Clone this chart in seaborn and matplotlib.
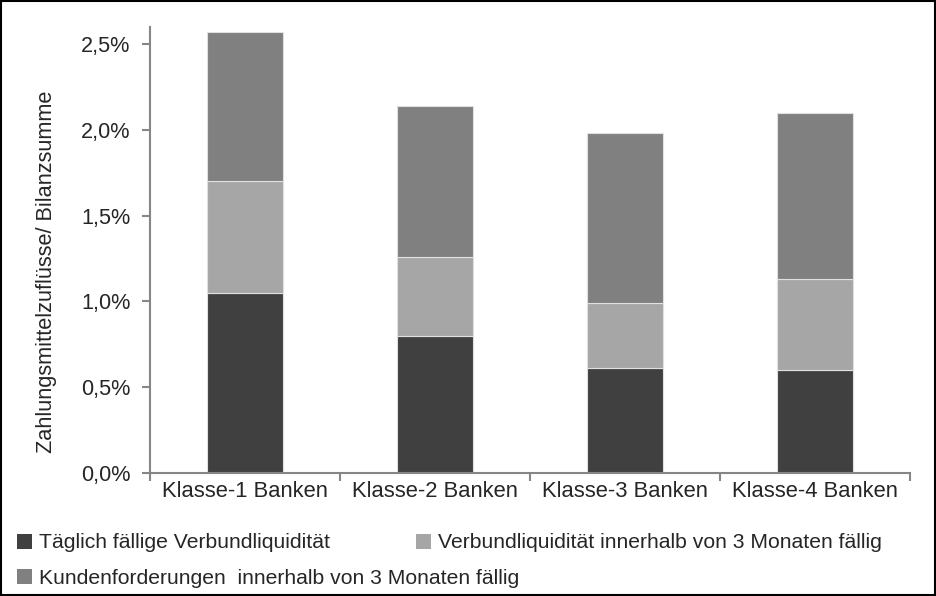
import matplotlib
matplotlib.use("Agg")
import matplotlib.pyplot as plt
import seaborn as sns
import numpy as np
import pandas as pd
from matplotlib.patches import Patch, Rectangle
from matplotlib.ticker import FuncFormatter, FixedLocator

categories = ["Klasse-1 Banken", "Klasse-2 Banken", "Klasse-3 Banken", "Klasse-4 Banken"]
series_names = ["Täglich fällige Verbundliquidität",
                "Verbundliquidität innerhalb von 3 Monaten fällig",
                "Kundenforderungen  innerhalb von 3 Monaten fällig"]
daily = [1.05, 0.80, 0.61, 0.60]
within3_verbund = [0.65, 0.46, 0.38, 0.53]
within3_kunden = [0.87, 0.88, 0.99, 0.97]
colors = ["#404040", "#a6a6a6", "#808080"]

sns.set_theme(style="white")
plt.rcParams['font.family'] = ['Liberation Sans', 'DejaVu Sans']

fig = plt.figure(figsize=(9.37, 5.96), dpi=100)
ax = fig.add_axes([150/937, 1-473/596, 760/937, (473-27)/596])

df = pd.DataFrame({"cat": categories, "d": daily, "v": within3_verbund, "k": within3_kunden})
bottom = np.zeros(len(categories))
for col, c in zip(["d", "v", "k"], colors):
    sns.barplot(data=df, x="cat", y=col, bottom=bottom, color=c, width=0.4,
                edgecolor="#e0e0e0", linewidth=0.8, ax=ax, saturation=1)
    bottom = bottom + df[col].values

ax.set_xlim(-0.5, 3.5)
ax.set_ylim(0, 2.6)
ax.yaxis.set_major_locator(FixedLocator([0, 0.5, 1.0, 1.5, 2.0, 2.5]))
ax.yaxis.set_major_formatter(FuncFormatter(lambda v, p: f"{v:.1f}%".replace(".", ",")))
ax.set_xlabel("")
ax.set_ylabel("Zahlungsmittelzuflüsse/ Bilanzsumme", fontsize=15.7)
ax.yaxis.set_label_coords((57-150)/760, (473-272)/446)
for s in ["top", "right"]:
    ax.spines[s].set_visible(False)
for s in ["left", "bottom"]:
    ax.spines[s].set_color("#868686")
    ax.spines[s].set_linewidth(1.5)
ax.tick_params(axis="y", which="major", left=True, length=6, width=1.5, color="#868686",
               labelsize=15.6, pad=8)
ax.set_xticks(range(len(categories)))
ax.set_xticklabels(categories, fontsize=15.8)
ax.tick_params(axis="x", which="major", length=0, pad=6)
ax.set_xticks([-0.5, 0.5, 1.5, 2.5, 3.5], minor=True)
ax.tick_params(axis="x", which="minor", bottom=True, length=6, width=1.5, color="#868686")

handles = [Patch(facecolor=c, edgecolor="none") for c in colors]
leg_kw = dict(loc="center left", frameon=False, fontsize=15.2, handlelength=0.7,
              handleheight=0.7, handletextpad=0.35, borderaxespad=0, borderpad=0)
positions = [(17, 543), (416, 543), (17, 578)]
for h, name, (px, py) in zip(handles, series_names, positions):
    fig.legend([h], [name], bbox_to_anchor=(px/937, 1-py/596), **leg_kw)

fig.patches.append(Rectangle((0.001, 0.001), 0.997, 0.997, transform=fig.transFigure,
                             fill=False, edgecolor="black", linewidth=1.5))
fig.savefig("out.png", dpi=100)
